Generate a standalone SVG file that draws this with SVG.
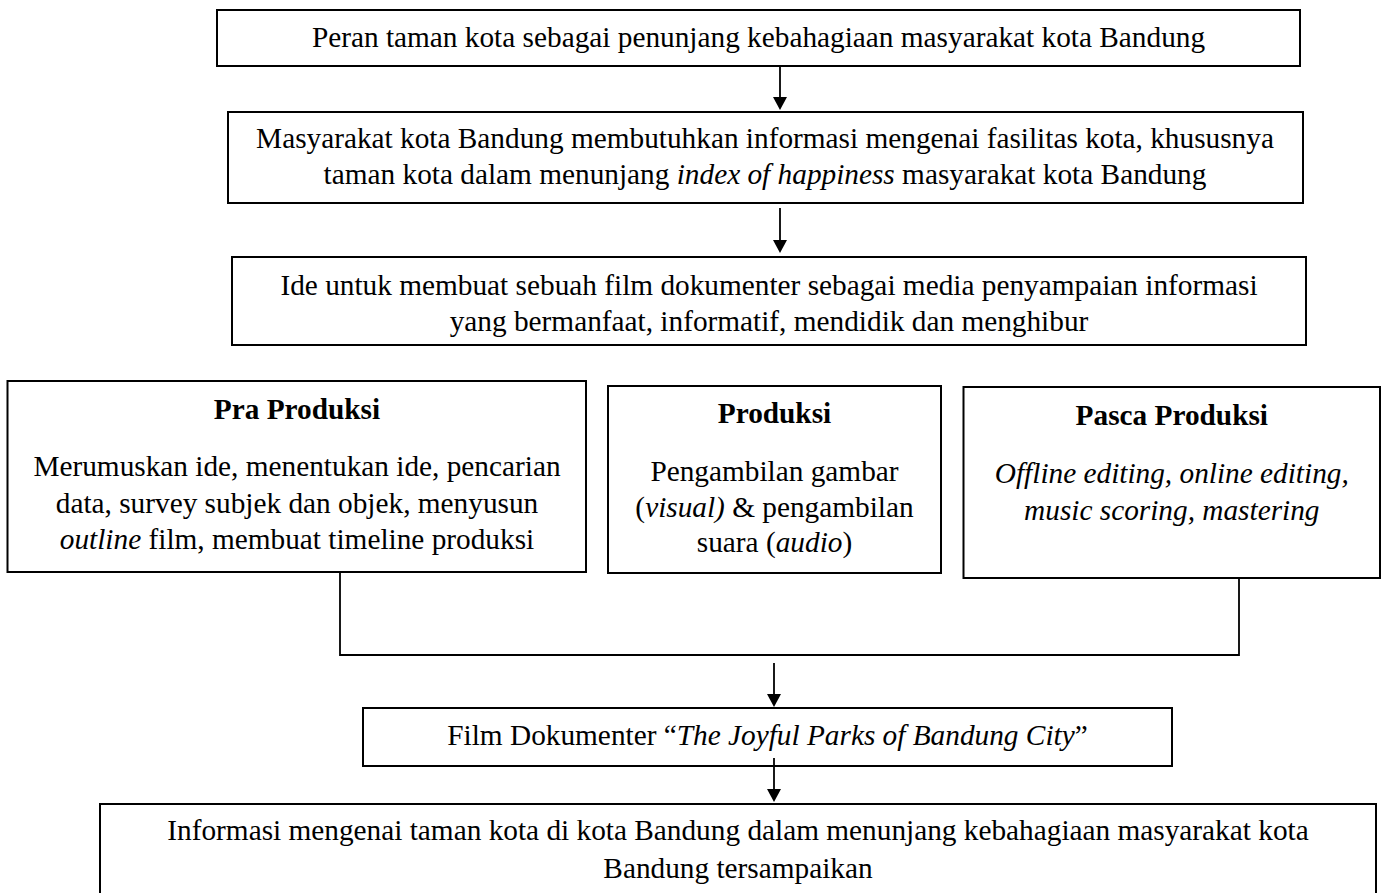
<svg xmlns="http://www.w3.org/2000/svg" width="1382" height="893" viewBox="0 0 1382 893">
<style>
.box{fill:#fff;stroke:#000;stroke-width:2}
.t{font-family:"Liberation Serif","Times New Roman",serif;font-size:29.3px;fill:#000;text-anchor:middle}
.b{font-weight:bold}
.i{font-style:italic}
.c{fill:none;stroke:#000;stroke-width:1.8}
</style>
<defs>
<marker id="ah" viewBox="0 0 13 14" refX="3" refY="7" markerWidth="13" markerHeight="14" markerUnits="userSpaceOnUse" orient="auto">
<path d="M0,0 L13,7 L0,14 z" fill="#000"/>
</marker>
</defs>
<rect width="1382" height="893" fill="#fff"/>

<g id="n1">
<rect class="box" x="217" y="10" width="1083" height="56"/>
<text class="t" x="758.5" y="46.5">Peran taman kota sebagai penunjang kebahagiaan masyarakat kota Bandung</text>
</g>

<g id="n2">
<rect class="box" x="228" y="112" width="1075" height="91"/>
<text class="t" x="765" y="148">Masyarakat kota Bandung membutuhkan informasi mengenai fasilitas kota, khususnya</text>
<text class="t" x="765" y="184">taman kota dalam menunjang <tspan class="i">index of happiness</tspan> masyarakat kota Bandung</text>
</g>

<g id="n3">
<rect class="box" x="232" y="257" width="1074" height="88"/>
<text class="t" x="769" y="295">Ide untuk membuat sebuah film dokumenter sebagai media penyampaian informasi</text>
<text class="t" x="769" y="331">yang bermanfaat, informatif, mendidik dan menghibur</text>
</g>

<g id="n4">
<rect class="box" x="7.5" y="381" width="578.5" height="191"/>
<text class="t b" x="297" y="419">Pra Produksi</text>
<text class="t" x="297" y="476">Merumuskan ide, menentukan ide, pencarian</text>
<text class="t" x="297" y="512.5">data, survey subjek dan objek, menyusun</text>
<text class="t" x="297" y="548.5"><tspan class="i">outline</tspan> film, membuat timeline produksi</text>
</g>

<g id="n5">
<rect class="box" x="608" y="386" width="333" height="187"/>
<text class="t b" x="774.5" y="423">Produksi</text>
<text class="t" x="774.5" y="481">Pengambilan gambar</text>
<text class="t" x="774.5" y="516.5">(<tspan class="i">visual)</tspan> &amp; pengambilan</text>
<text class="t" x="774.5" y="552">suara (<tspan class="i">audio</tspan>)</text>
</g>

<g id="n6">
<rect class="box" x="963.5" y="387" width="416.5" height="191"/>
<text class="t b" x="1171.8" y="425">Pasca Produksi</text>
<text class="t i" x="1171.8" y="483">Offline editing, online editing,</text>
<text class="t i" x="1171.8" y="519.5">music scoring, mastering</text>
</g>

<g id="n7">
<rect class="box" x="363" y="708" width="809" height="58"/>
<text class="t" x="767.5" y="745">Film Dokumenter “<tspan class="i">The Joyful Parks of Bandung City</tspan>”</text>
</g>

<g id="n8">
<rect class="box" x="100" y="804" width="1276" height="120"/>
<text class="t" x="738" y="840">Informasi mengenai taman kota di kota Bandung dalam menunjang kebahagiaan masyarakat kota</text>
<text class="t" x="738" y="877.5">Bandung tersampaikan</text>
</g>

<g id="connectors">
<line class="c" x1="780" y1="66" x2="780" y2="100" marker-end="url(#ah)"/>
<line class="c" x1="780" y1="208" x2="780" y2="243" marker-end="url(#ah)"/>
<polyline class="c" points="340,572 340,655 1239,655 1239,578"/>
<line class="c" x1="774" y1="663" x2="774" y2="697" marker-end="url(#ah)"/>
<line class="c" x1="774" y1="758" x2="774" y2="792" marker-end="url(#ah)"/>
</g>
</svg>
